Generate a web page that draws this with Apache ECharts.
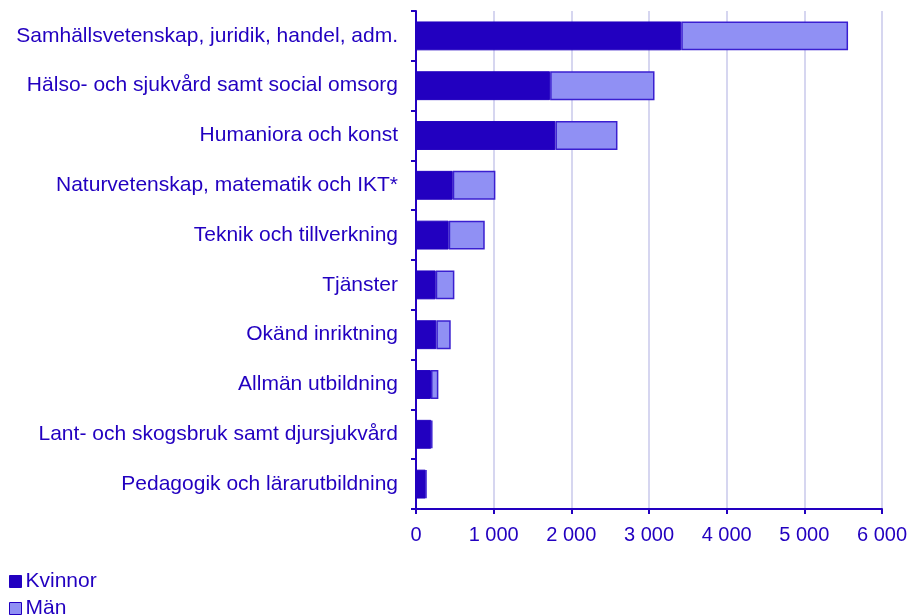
<!DOCTYPE html>
<html>
<head>
<meta charset="utf-8">
<script src="https://cdn.jsdelivr.net/npm/echarts@6/dist/echarts.min.js"></script>
<style>
  html, body { margin: 0; padding: 0; background: #fff; }
  #chart { width: 911px; height: 616px; }
</style>
</head>
<body>
<div id="chart"></div>
<script>
// categories listed bottom to top (category axis starts at the bottom)
const categories = [
  'Pedagogik och lärarutbildning',
  'Lant- och skogsbruk samt djursjukvård',
  'Allmän utbildning',
  'Okänd inriktning',
  'Tjänster',
  'Teknik och tillverkning',
  'Naturvetenskap, matematik och IKT*',
  'Humaniora och konst',
  'Hälso- och sjukvård samt social omsorg',
  'Samhällsvetenskap, juridik, handel, adm.'
];
const kvinnor = [125, 196, 193, 262, 254, 421, 473, 1795, 1727, 3415];
const man = [8, 15, 95, 185, 240, 464, 549, 799, 1344, 2148];
const xTicks = [0, 1000, 2000, 3000, 4000, 5000, 6000];

const blue = '#2200c0';
const light = '#9090f4';
const font = 'Arial, "Liberation Sans", sans-serif';

const legendBase = {
  left: 9,
  itemWidth: 12,
  itemHeight: 12,
  icon: 'rect',
  padding: 0,
  textStyle: { fontFamily: font, fontSize: 21, color: blue, padding: [0, 0, 0, -1] }
};

const chart = echarts.init(document.getElementById('chart'));
chart.setOption({
  animation: false,
  textStyle: { fontFamily: font, color: blue },
  grid: { left: 416, right: 29, top: 11, bottom: 107, containLabel: false },
  legend: [
    Object.assign({}, legendBase, {
      top: 571,
      data: [{ name: 'Kvinnor', itemStyle: { color: blue, borderColor: blue, borderWidth: 1 } }]
    }),
    Object.assign({}, legendBase, {
      top: 598,
      data: [{ name: 'Män', itemStyle: { color: light, borderColor: blue, borderWidth: 1 } }]
    })
  ],
  xAxis: {
    type: 'value',
    min: xTicks[0],
    max: xTicks[xTicks.length - 1],
    interval: 1000,
    axisLine: { show: true, lineStyle: { color: blue, width: 2 } },
    axisTick: { show: true, length: 5, lineStyle: { color: blue, width: 2 } },
    splitLine: { show: true, lineStyle: { color: '#d6d6f0', width: 2 } },
    axisLabel: {
      color: blue, fontSize: 20, fontFamily: font, margin: 16,
      formatter: v => String(v).replace(/\B(?=(\d{3})+(?!\d))/g, ' ')
    }
  },
  yAxis: {
    type: 'category',
    data: categories,
    axisLine: { show: true, lineStyle: { color: blue, width: 2 } },
    axisTick: { show: true, length: 5, lineStyle: { color: blue, width: 2 } },
    axisLabel: { color: blue, fontSize: 21, fontFamily: font, margin: 18 }
  },
  series: [
    {
      name: 'Kvinnor', type: 'bar', stack: 'tot', data: kvinnor, barWidth: '58%',
      itemStyle: { color: blue, borderColor: blue, borderWidth: 1 }
    },
    {
      name: 'Män', type: 'bar', stack: 'tot', data: man, barWidth: '58%',
      itemStyle: { color: light, borderColor: '#3a1fd0', borderWidth: 1.5 }
    }
  ]
});
</script>
</body>
</html>
